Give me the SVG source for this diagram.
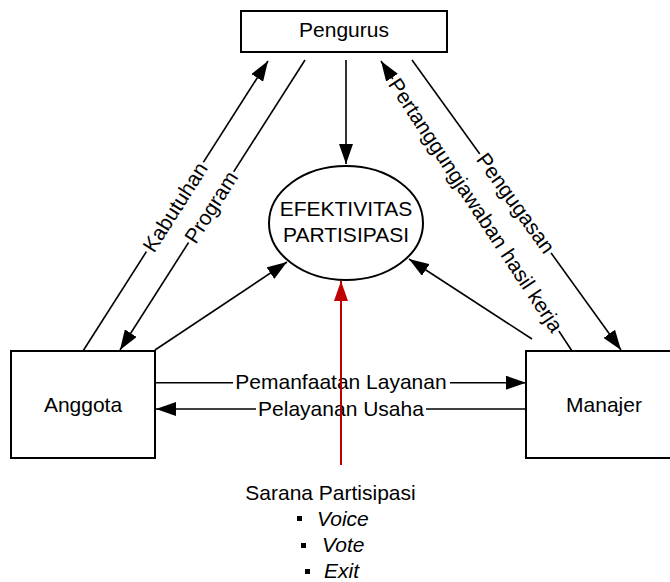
<svg xmlns="http://www.w3.org/2000/svg" width="670" height="582" viewBox="0 0 670 582">
<style>
text{font-family:"Liberation Sans",Arial,sans-serif;font-size:21px;fill:#000}
.c{text-anchor:middle}
.box{fill:#fff;stroke:#000;stroke-width:2}
.ln{stroke:#000;stroke-width:1.6;fill:none}
.bg{fill:#fff}
.it{font-style:italic}
</style>
<defs>
<marker id="ah" markerUnits="userSpaceOnUse" markerWidth="20" markerHeight="14" refX="20" refY="7" orient="auto"><path d="M0,0 L20,7 L0,14 z" fill="#000"/></marker>
<marker id="ahr" markerUnits="userSpaceOnUse" markerWidth="20" markerHeight="14" refX="20" refY="7" orient="auto"><path d="M0,0 L20,7 L0,14 z" fill="#C00000"/></marker>
</defs>
<g id="connectors">
<line class="ln" x1="83" y1="351" x2="268" y2="61" marker-end="url(#ah)"/>
<line class="ln" x1="305" y1="60" x2="120" y2="350" marker-end="url(#ah)"/>
<line class="ln" x1="155" y1="350" x2="287" y2="262" marker-end="url(#ah)"/>
<line class="ln" x1="346" y1="60" x2="346" y2="164" marker-end="url(#ah)"/>
<line class="ln" x1="572" y1="351" x2="381" y2="61" marker-end="url(#ah)"/>
<line class="ln" x1="412" y1="60" x2="621" y2="350" marker-end="url(#ah)"/>
<line class="ln" x1="532" y1="339" x2="409" y2="259" marker-end="url(#ah)"/>
<line class="ln" x1="155" y1="382.7" x2="526" y2="382.7" marker-end="url(#ah)"/>
<line class="ln" x1="526" y1="409" x2="156" y2="409" marker-end="url(#ah)"/>
<g transform="translate(175,207) rotate(-57.5)"><rect class="bg" x="-53" y="-11" width="106" height="22"/><text class="c" y="7.5">Kabutuhan</text></g>
<g transform="translate(211,207) rotate(-57.5)"><rect class="bg" x="-42" y="-11" width="84" height="22"/><text class="c" y="7.5">Program</text></g>
<g transform="translate(476,205) rotate(56.6)"><rect class="bg" x="-151" y="-11" width="302" height="22"/><text class="c" y="7.5">Pertanggungjawaban hasil kerja</text></g>
<g transform="translate(516,203) rotate(54.2)"><rect class="bg" x="-61" y="-11" width="122" height="22"/><text class="c" y="7.5">Pengugasan</text></g>
<rect class="bg" x="233" y="372" width="217" height="22"/>
<text class="c" x="341" y="389.3">Pemanfaatan Layanan</text>
<rect class="bg" x="256" y="398" width="170" height="22"/>
<text class="c" x="341" y="415.7">Pelayanan Usaha</text>
<line x1="341" y1="465" x2="341" y2="281" stroke="#C00000" stroke-width="2" marker-end="url(#ahr)"/>
</g>
<g id="pengurus"><rect class="box" x="241" y="11" width="206" height="41"/><text class="c" x="344" y="37.3">Pengurus</text></g>
<g id="efektivitas"><ellipse cx="346" cy="223" rx="77" ry="57" fill="#fff" stroke="#000" stroke-width="2"/><text class="c" x="346" y="215.7">EFEKTIVITAS</text><text class="c" x="346" y="242.3">PARTISIPASI</text></g>
<g id="anggota"><rect class="box" x="11" y="351" width="144" height="107"/><text class="c" x="83" y="411.7">Anggota</text></g>
<g id="manajer"><rect class="box" x="526" y="351" width="156" height="107"/><text class="c" x="604" y="411.7">Manajer</text></g>
<g id="sarana">
<text class="c" x="330.5" y="500">Sarana Partisipasi</text>
<rect x="297" y="516" width="5" height="5" fill="#000"/><text class="it" x="317" y="526">Voice</text>
<rect x="301" y="543" width="5" height="5" fill="#000"/><text class="it" x="322" y="552">Vote</text>
<rect x="305" y="569" width="5" height="5" fill="#000"/><text class="it" x="324" y="578">Exit</text>
</g>
</svg>
